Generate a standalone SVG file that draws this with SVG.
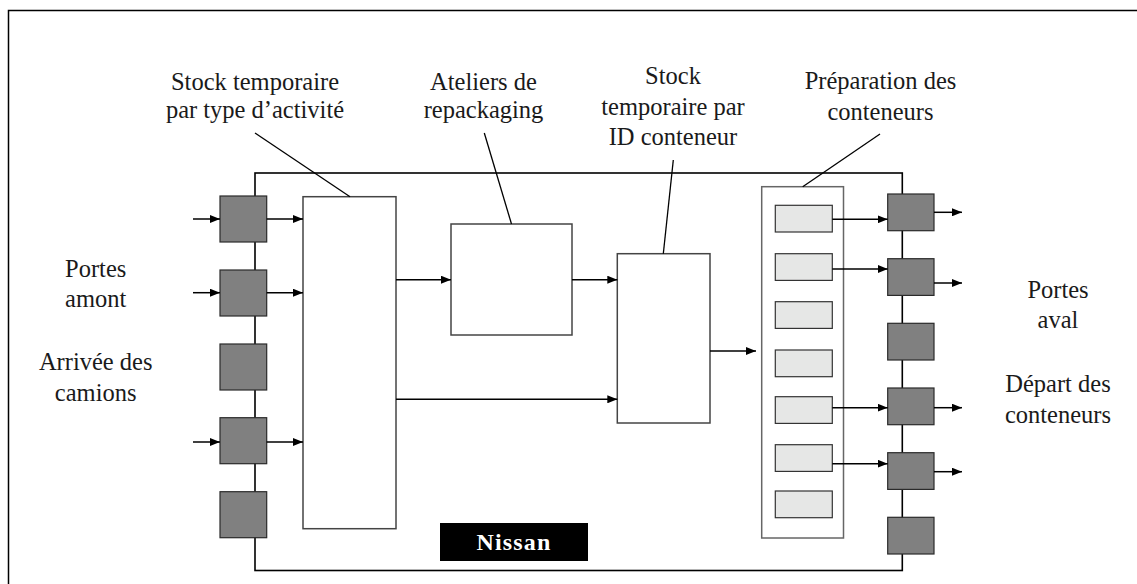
<svg xmlns="http://www.w3.org/2000/svg" width="1137" height="584" viewBox="0 0 1137 584">
<style>
.lbl{font-family:"Liberation Serif","Times New Roman",serif;font-size:24.5px;fill:#1a1a1a;text-anchor:middle}
.gate{fill:#808080;stroke:#2a2a2a;stroke-width:1.2}
.box{fill:#fff;stroke:#444;stroke-width:1.5}
.cont{fill:#e6e7e6;stroke:#333;stroke-width:1.2}
.ln{stroke:#000;stroke-width:1.5;fill:none}
.arr{stroke:#000;stroke-width:1.5;fill:none;marker-end:url(#ah)}
.lead{stroke:#000;stroke-width:1.3;fill:none}
</style>
<defs>
<marker id="ah" markerUnits="userSpaceOnUse" markerWidth="11" markerHeight="8" refX="10" refY="4" orient="auto">
<path d="M0,0 L10,4 L0,8 z" fill="#000"/>
</marker>
</defs>
<rect width="1137" height="584" fill="#fff"/>
<g id="frame">
<path class="ln" d="M8.5,584 V10.5 H1137"/>
</g>
<g id="building">
<rect x="255" y="173" width="647.3" height="397.5" fill="none" stroke="#000" stroke-width="1.6"/>
</g>
<g id="labels">
<text class="lbl" x="255" y="89.5">Stock temporaire</text>
<text class="lbl" x="255" y="117.5">par type d’activité</text>
<text class="lbl" x="483.5" y="89.5">Ateliers de</text>
<text class="lbl" x="483.5" y="117.5">repackaging</text>
<text class="lbl" x="673" y="84">Stock</text>
<text class="lbl" x="673" y="114.5">temporaire par</text>
<text class="lbl" x="673" y="145">ID conteneur</text>
<text class="lbl" x="880.5" y="88.5">Préparation des</text>
<text class="lbl" x="880.5" y="119.5">conteneurs</text>
<text class="lbl" x="95.7" y="277">Portes</text>
<text class="lbl" x="95.7" y="307">amont</text>
<text class="lbl" x="95.7" y="370">Arrivée des</text>
<text class="lbl" x="95.7" y="400.5">camions</text>
<text class="lbl" x="1058" y="297.5">Portes</text>
<text class="lbl" x="1058" y="328">aval</text>
<text class="lbl" x="1058" y="391.5">Départ des</text>
<text class="lbl" x="1058" y="422.5">conteneurs</text>
</g>
<g id="stock-activite"><rect class="box" x="303" y="196.7" width="93" height="332"/></g>
<g id="ateliers"><rect class="box" x="451" y="224" width="121" height="111"/></g>
<g id="stock-conteneur"><rect class="box" x="617.3" y="253.7" width="92.7" height="169.3"/></g>
<g id="preparation">
<rect x="761.7" y="186.7" width="81.8" height="351.3" fill="#fff" stroke="#666" stroke-width="1.5"/>
<rect class="cont" x="775.3" y="205.3" width="57" height="26.7"/>
<rect class="cont" x="775.3" y="253.7" width="57" height="26.7"/>
<rect class="cont" x="775.3" y="301.7" width="57" height="26.7"/>
<rect class="cont" x="775.3" y="350" width="57" height="26.7"/>
<rect class="cont" x="775.3" y="396.7" width="57" height="26.7"/>
<rect class="cont" x="775.3" y="444.7" width="57" height="26.7"/>
<rect class="cont" x="775.3" y="491" width="57" height="26.7"/>
</g>
<g id="portes-amont">
<rect class="gate" x="220" y="196" width="46.7" height="46"/>
<rect class="gate" x="220" y="270" width="46.7" height="46"/>
<rect class="gate" x="220" y="344" width="46.7" height="46"/>
<rect class="gate" x="220" y="417.7" width="46.7" height="46"/>
<rect class="gate" x="220" y="491.7" width="46.7" height="46"/>
</g>
<g id="portes-aval">
<rect class="gate" x="887.7" y="194" width="46.3" height="36.7"/>
<rect class="gate" x="887.7" y="258.7" width="46.3" height="36.7"/>
<rect class="gate" x="887.7" y="323.3" width="46.3" height="36.7"/>
<rect class="gate" x="887.7" y="388" width="46.3" height="36.7"/>
<rect class="gate" x="887.7" y="452.7" width="46.3" height="36.7"/>
<rect class="gate" x="887.7" y="517.3" width="46.3" height="36.7"/>
</g>
<g id="nissan">
<rect x="440" y="523" width="148" height="38" fill="#000"/>
<text x="514" y="550" font-family="'Liberation Serif','Times New Roman',serif" font-size="24" font-weight="bold" fill="#fff" text-anchor="middle" letter-spacing="1.2">Nissan</text>
</g>
<g id="connectors">
<line class="arr" x1="193" y1="219" x2="220" y2="219"/>
<line class="arr" x1="193" y1="292.7" x2="220" y2="292.7"/>
<line class="arr" x1="193" y1="442" x2="220" y2="442"/>
<line class="arr" x1="266.7" y1="219" x2="303" y2="219"/>
<line class="arr" x1="266.7" y1="292.7" x2="303" y2="292.7"/>
<line class="arr" x1="266.7" y1="442" x2="303" y2="442"/>
<line class="arr" x1="396" y1="279.7" x2="451" y2="279.7"/>
<line class="arr" x1="572" y1="279.7" x2="617.3" y2="279.7"/>
<line class="arr" x1="396" y1="399.3" x2="617.3" y2="399.3"/>
<line class="arr" x1="710" y1="351" x2="756" y2="351"/>
<line class="arr" x1="832.3" y1="219.3" x2="887.7" y2="219.3"/>
<line class="arr" x1="832.3" y1="269" x2="887.7" y2="269"/>
<line class="arr" x1="832.3" y1="407.7" x2="887.7" y2="407.7"/>
<line class="arr" x1="832.3" y1="463.7" x2="887.7" y2="463.7"/>
<line class="arr" x1="934" y1="212.3" x2="962" y2="212.3"/>
<line class="arr" x1="934" y1="283" x2="962" y2="283"/>
<line class="arr" x1="934" y1="407.7" x2="962" y2="407.7"/>
<line class="arr" x1="934" y1="471.7" x2="962" y2="471.7"/>
<line class="lead" x1="255" y1="133" x2="350" y2="196.7"/>
<line class="lead" x1="484.3" y1="133" x2="511.5" y2="224"/>
<line class="lead" x1="673.3" y1="160" x2="663.3" y2="253.7"/>
<line class="lead" x1="880" y1="134" x2="802.7" y2="186.7"/>
</g>
</svg>
